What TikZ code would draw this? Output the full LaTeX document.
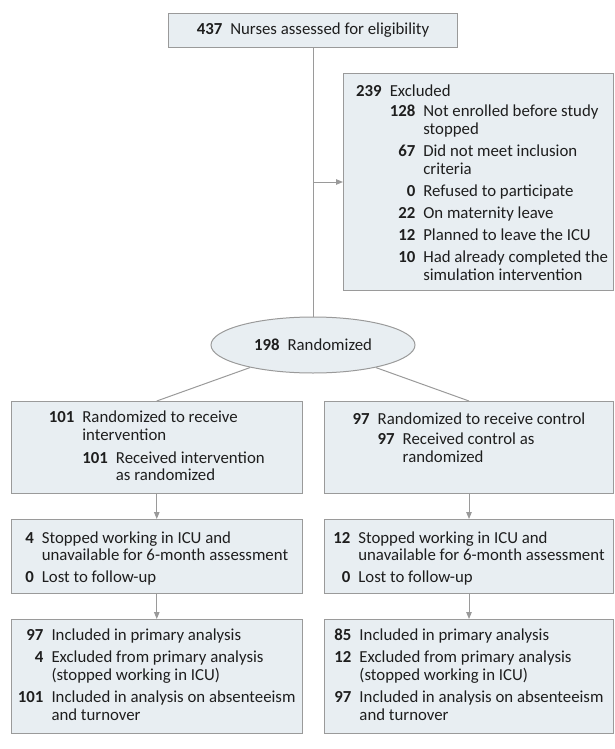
\documentclass[tikz,border=0pt]{standalone}
\usepackage{fontspec}
\setmainfont{Carlito}
\usetikzlibrary{shapes.geometric,arrows.meta}
\definecolor{linegray}{HTML}{9A9A9A}
\definecolor{boxfill}{HTML}{E8EEF2}
\definecolor{ink}{HTML}{1E1E1E}
\newcommand\fsz{\fontsize{16.8}{17.6}\selectfont}
\begin{document}
\begin{tikzpicture}[x=1pt,y=-1pt,
  box/.style={draw=linegray, fill=boxfill, line width=1pt, inner sep=0pt, anchor=north west},
  conn/.style={draw=linegray, line width=1pt},
  arr/.style={conn, -{Triangle[length=7pt,width=5.5pt]}},
  txt/.style={inner sep=0pt, text=ink, font=\fsz}]
\useasboundingbox (0,0) rectangle (614,749);

% boxes
\node[box, minimum width=289pt, minimum height=34pt] (top) at (168,13) {};
\node[box, minimum width=270pt, minimum height=217pt] (excl) at (343,73) {};
\node[ellipse, draw=linegray, fill=boxfill, line width=1pt, minimum width=204pt, minimum height=56pt, inner sep=0pt, text=ink, font=\fsz] (rand) at (313,345) {\textbf{198}\hspace{8pt}Randomized};
\node[box, minimum width=291.5pt, minimum height=92pt] (l2) at (10.5,401) {};
\node[box, minimum width=289pt, minimum height=92pt] (r2) at (324,401) {};
\node[box, minimum width=291.5pt, minimum height=74pt] (l3) at (10.5,519) {};
\node[box, minimum width=289pt, minimum height=74pt] (r3) at (324,519) {};
\node[box, minimum width=291.5pt, minimum height=114pt] (l4) at (10.5,619) {};
\node[box, minimum width=289pt, minimum height=114pt] (r4) at (324,619) {};

% connectors
\coordinate (branch) at (top.south |- excl.west);
\draw[conn] (top.south) -- (rand.north);
\draw[arr] (branch) -- (excl.west);
\draw[conn] (rand) -- (l2.north);
\draw[conn] (rand) -- (r2.north);
\draw[arr] (l2.south) -- (l3.north);
\draw[arr] (r2.south) -- (r3.north);
\draw[arr] (l3.south) -- (l4.north);
\draw[arr] (r3.south) -- (r4.north);

% texts
\node[txt] (toptxt) at (top.center) {\textbf{437}\hspace{8pt}Nurses assessed for eligibility};

\node[txt, anchor=base west] (excltxt) at (356,96.7) {\begin{tabular}[t]{@{}r@{\hspace{8pt}}r@{\hspace{8pt}}l@{}}
\textbf{239} & \multicolumn{2}{@{}l@{}}{Excluded}\\[2.5pt]
 & \textbf{128} & Not enrolled before study\\
 & & stopped\\[4.5pt]
 & \textbf{67} & Did not meet inclusion\\
 & & criteria\\[4.5pt]
 & \textbf{0} & Refused to participate\\[4.5pt]
 & \textbf{22} & On maternity leave\\[4.5pt]
 & \textbf{12} & Planned to leave the ICU\\[4.5pt]
 & \textbf{10} & Had already completed the\\
 & & simulation intervention
\end{tabular}};

\node[txt, anchor=base] (l2txt) at ([yshift=-21.5pt]l2.north) {\begin{tabular}[t]{@{}r@{\hspace{8pt}}r@{\hspace{8pt}}l@{}}
\textbf{101} & \multicolumn{2}{@{}l@{}}{Randomized to receive}\\
 & \multicolumn{2}{@{}l@{}}{intervention}\\[5.5pt]
 & \textbf{101} & Received intervention\\
 & & as randomized
\end{tabular}};

\node[txt, anchor=base] (r2txt) at ([yshift=-23pt]r2.north) {\begin{tabular}[t]{@{}r@{\hspace{8pt}}r@{\hspace{8pt}}l@{}}
\textbf{97} & \multicolumn{2}{@{}l@{}}{Randomized to receive control}\\[3pt]
 & \textbf{97} & Received control as\\
 & & randomized
\end{tabular}};

\node[txt, anchor=base] (l3txt) at ([yshift=-24pt]l3.north) {\begin{tabular}[t]{@{}r@{\hspace{8pt}}l@{}}
\textbf{4} & Stopped working in ICU and\\
 & unavailable for 6-month assessment\\[4.5pt]
\textbf{0} & Lost to follow-up
\end{tabular}};

\node[txt, anchor=base] (r3txt) at ([yshift=-24pt]r3.north) {\begin{tabular}[t]{@{}r@{\hspace{8pt}}l@{}}
\textbf{12} & Stopped working in ICU and\\
 & unavailable for 6-month assessment\\[4.5pt]
\textbf{0} & Lost to follow-up
\end{tabular}};

\node[txt, anchor=base] (l4txt) at ([yshift=-21.7pt]l4.north) {\begin{tabular}[t]{@{}r@{\hspace{8pt}}l@{}}
\textbf{97} & Included in primary analysis\\[4.5pt]
\textbf{4} & Excluded from primary analysis\\
 & (stopped working in ICU)\\[4.5pt]
\textbf{101} & Included in analysis on absenteeism\\
 & and turnover
\end{tabular}};

\node[txt, anchor=base] (r4txt) at ([yshift=-21.7pt]r4.north) {\begin{tabular}[t]{@{}r@{\hspace{8pt}}l@{}}
\textbf{85} & Included in primary analysis\\[4.5pt]
\textbf{12} & Excluded from primary analysis\\
 & (stopped working in ICU)\\[4.5pt]
\textbf{97} & Included in analysis on absenteeism\\
 & and turnover
\end{tabular}};
\end{tikzpicture}
\end{document}
